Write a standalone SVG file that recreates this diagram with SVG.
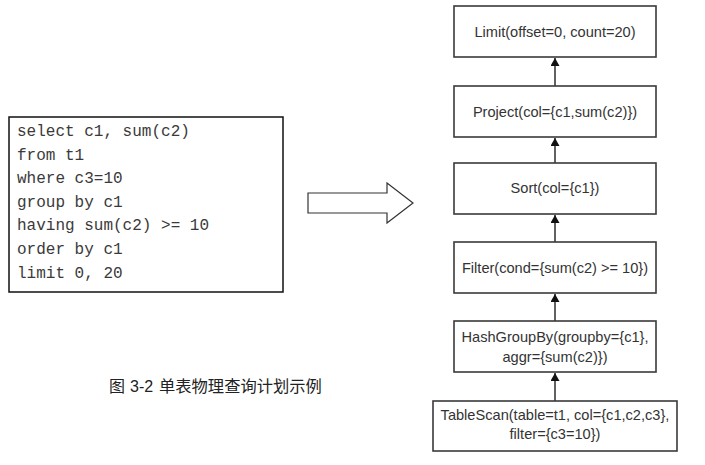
<svg xmlns="http://www.w3.org/2000/svg" width="705" height="465" viewBox="0 0 705 465">
<defs>
<style>
.node{fill:#fff;stroke:#3a3a3a;stroke-width:1.6}
.lbl{font-family:"Liberation Sans",Arial,sans-serif;font-size:14.6px;fill:#333;text-anchor:middle}
.sql{font-family:"Liberation Mono","Courier New",monospace;font-size:16px;fill:#3a3a3a}
.conn{stroke:#3a3a3a;stroke-width:1.6;fill:none}
</style>
<marker id="ah" viewBox="0 0 8 9" refX="8" refY="4.5" markerWidth="8" markerHeight="9" markerUnits="userSpaceOnUse" orient="auto">
<path d="M0,0 L8,4.5 L0,9 Z" fill="#111"/>
</marker>
</defs>
<rect width="705" height="465" fill="#fff"/>
<g id="sql">
<rect x="9" y="117" width="274" height="175" fill="#fff" stroke="#111" stroke-width="1.5"/>
<text class="sql" x="17" y="136">select c1, sum(c2)</text>
<text class="sql" x="17" y="160">from t1</text>
<text class="sql" x="17" y="183">where c3=10</text>
<text class="sql" x="17" y="207">group by c1</text>
<text class="sql" x="17" y="230">having sum(c2) &gt;= 10</text>
<text class="sql" x="17" y="254">order by c1</text>
<text class="sql" x="17" y="278">limit 0, 20</text>
</g>
<g id="bigarrow">
<polygon points="308,193 387,193 387,183 413,203 387,223 387,213 308,213" fill="#fff" stroke="#333" stroke-width="1.2"/>
</g>
<g id="caption">
<text x="109" y="392" font-family="'Noto Sans CJK SC',sans-serif" font-size="16" fill="#222">图</text>
<text x="130" y="392" font-family="'Liberation Sans',Arial,sans-serif" font-size="16" fill="#222">3-2</text>
<text x="159" y="392" font-family="'Noto Sans CJK SC',sans-serif" font-size="16.3" fill="#222">单表物理查询计划示例</text>
</g>
<g id="connectors">
<line class="conn" x1="555" y1="86" x2="555" y2="58" marker-end="url(#ah)"/>
<line class="conn" x1="555" y1="163" x2="555" y2="138" marker-end="url(#ah)"/>
<line class="conn" x1="555" y1="242" x2="555" y2="215" marker-end="url(#ah)"/>
<line class="conn" x1="555" y1="321" x2="555" y2="294" marker-end="url(#ah)"/>
<line class="conn" x1="555" y1="401" x2="555" y2="373" marker-end="url(#ah)"/>
</g>
<g id="limit">
<rect class="node" x="454" y="6" width="202" height="51"/>
<text class="lbl" x="555" y="37">Limit(offset=0, count=20)</text>
</g>
<g id="project">
<rect class="node" x="454" y="86" width="202" height="51"/>
<text class="lbl" x="555" y="117">Project(col={c1,sum(c2)})</text>
</g>
<g id="sort">
<rect class="node" x="454" y="163" width="202" height="51"/>
<text class="lbl" x="555" y="193">Sort(col={c1})</text>
</g>
<g id="filter">
<rect class="node" x="454" y="242" width="202" height="51"/>
<text class="lbl" x="555" y="273">Filter(cond={sum(c2) &gt;= 10})</text>
</g>
<g id="hashgroupby">
<rect class="node" x="454" y="321" width="202" height="51"/>
<text class="lbl" x="555" y="342">HashGroupBy(groupby={c1},</text>
<text class="lbl" x="555" y="362">aggr={sum(c2)})</text>
</g>
<g id="tablescan">
<rect class="node" x="433" y="401" width="244" height="50"/>
<text class="lbl" x="555" y="420">TableScan(table=t1, col={c1,c2,c3},</text>
<text class="lbl" x="555" y="439">filter={c3=10})</text>
</g>
</svg>
